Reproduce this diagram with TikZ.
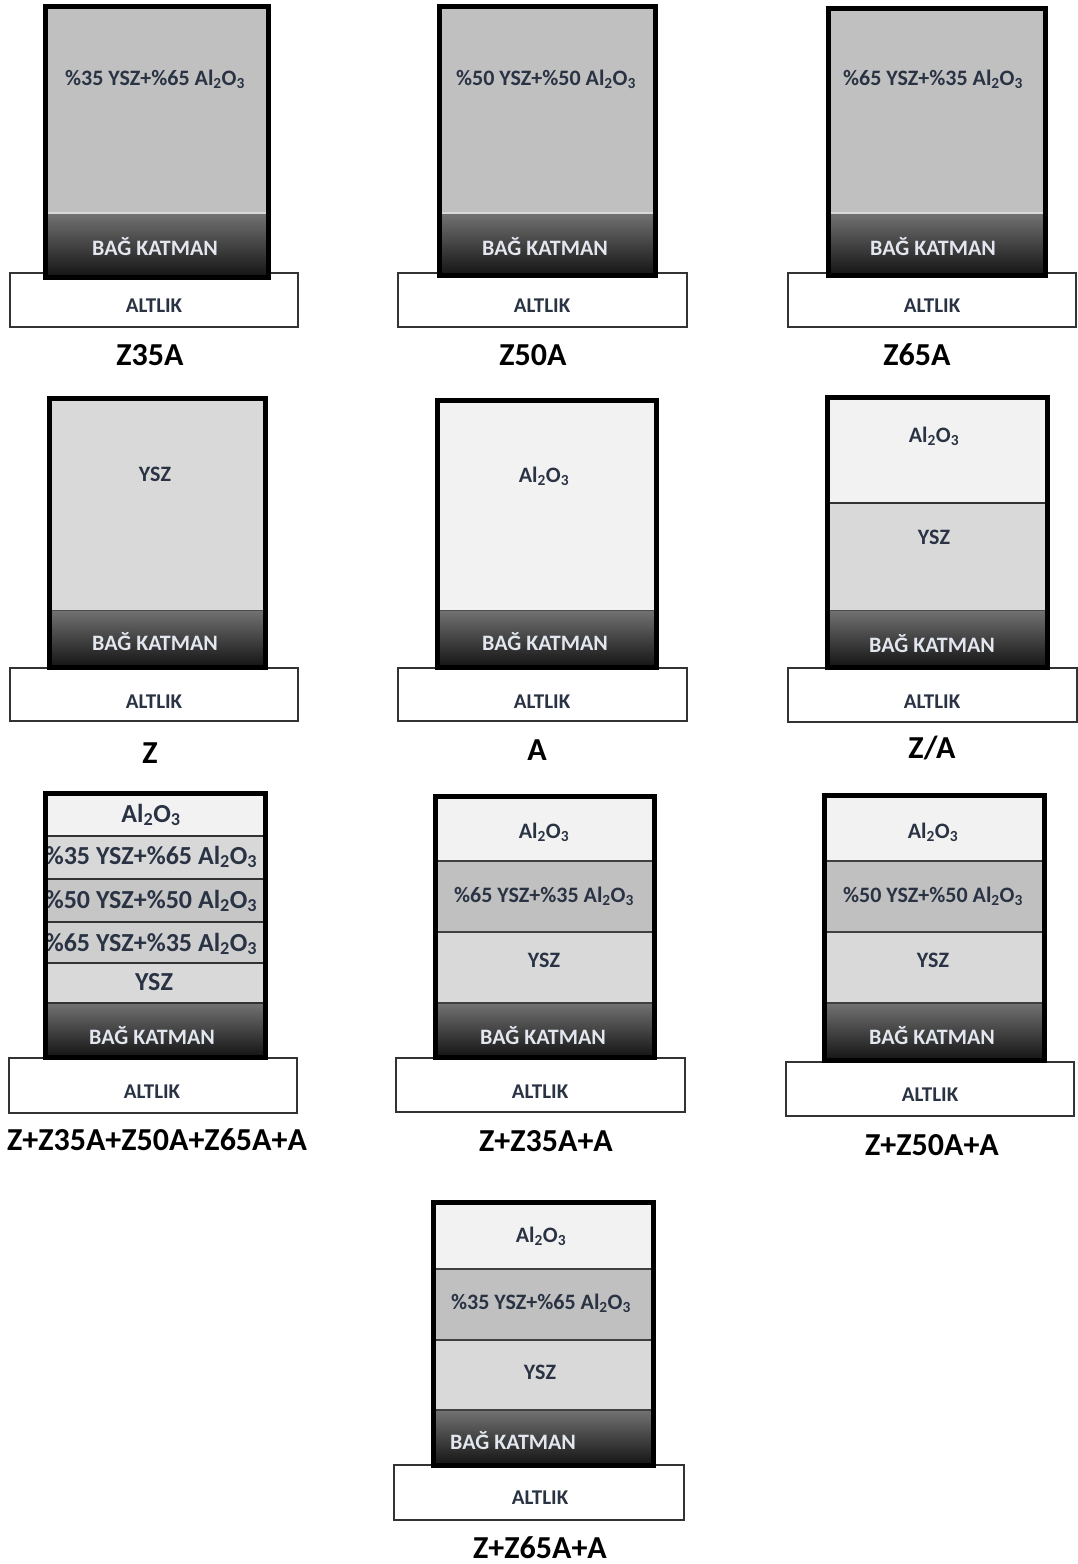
\documentclass[tikz,border=0pt]{standalone}
\usepackage{fontspec}
\setmainfont{Carlito}
\definecolor{mixc}{HTML}{C0C0C0}
\definecolor{yszc}{HTML}{D9D9D9}
\definecolor{aluc}{HTML}{F2F2F2}
\definecolor{m35}{HTML}{D8D8D8}
\definecolor{m50}{HTML}{C6C6C6}
\definecolor{m65}{HTML}{CECECE}
\definecolor{bagtop}{HTML}{727272}
\definecolor{bagbot}{HTML}{141414}
\definecolor{txtc}{HTML}{2A3344}
\definecolor{bagtxt}{HTML}{E2E6EE}
\tikzset{
  lbl/.style={inner sep=0pt, text=txtc, font=\bfseries\fontsize{22}{22}\selectfont},
  biglbl/.style={inner sep=0pt, text=txtc, font=\bfseries\fontsize{26}{26}\selectfont},
  baglbl/.style={inner sep=0pt, text=bagtxt, font=\bfseries\fontsize{22}{22}\selectfont},
  altlbl/.style={inner sep=0pt, text=txtc, font=\bfseries\fontsize{21}{21}\selectfont},
  caption/.style={inner sep=0pt, text=black, font=\bfseries\fontsize{32}{32}\selectfont},
  altbox/.style={draw=black!80, line width=1.5pt, fill=white},
  outerbox/.style={draw=black, line width=5pt},
  sepline/.style={draw=black!80, line width=2pt},
  bagshade/.style={top color=bagtop, bottom color=bagbot}
}
\newcommand\mixtxt[2]{\%#1 YSZ+\%#2 Al\textsubscript{2}O\textsubscript{3}}
\newcommand\alu{Al\textsubscript{2}O\textsubscript{3}}
\begin{document}
\begin{tikzpicture}[x=1pt,y=-1pt]
\useasboundingbox (0,0) rectangle (1078,1564);
\fill[white] (0,0) rectangle (1078,1564);

% ================= Row 1 =================
% Z35A
\draw[altbox] (10,273) rectangle (298,327);
\fill[mixc] (45,6) rectangle (268,213);
\shade[bagshade] (45,213) rectangle (268,277);
\draw[white!85!black, line width=1.5pt] (45,213) -- (268,213);
\draw[outerbox] (45,6) rectangle (268,277);
\node[lbl] (t1a) at (155,79) {\mixtxt{35}{65}};
\node[baglbl] (t1b) at (155,247) {BAĞ KATMAN};
\node[altlbl] (t1c) at (154,306) {ALTLIK};
\node[caption] (c1) at (150,355) {Z35A};

% Z50A
\draw[altbox] (398,273) rectangle (687,327);
\fill[mixc] (439,6) rectangle (655,213);
\shade[bagshade] (439,213) rectangle (655,275);
\draw[white!85!black, line width=1.5pt] (439,213) -- (655,213);
\draw[outerbox] (439,6) rectangle (655,275);
\node[lbl] (t2a) at (546,79) {\mixtxt{50}{50}};
\node[baglbl] (t2b) at (545,247) {BAĞ KATMAN};
\node[altlbl] (t2c) at (542,306) {ALTLIK};
\node[caption] (c2) at (533,355) {Z50A};

% Z65A
\draw[altbox] (788,273) rectangle (1076,327);
\fill[mixc] (828,8) rectangle (1045,213);
\shade[bagshade] (828,213) rectangle (1045,275);
\draw[white!85!black, line width=1.5pt] (828,213) -- (1045,213);
\draw[outerbox] (828,8) rectangle (1045,275);
\node[lbl] (t3a) at (933,79) {\mixtxt{65}{35}};
\node[baglbl] (t3b) at (933,247) {BAĞ KATMAN};
\node[altlbl] (t3c) at (932,306) {ALTLIK};
\node[caption] (c3) at (917,355) {Z65A};

% ================= Row 2 =================
% Z
\draw[altbox] (10,668) rectangle (298,721);
\fill[yszc] (49,398) rectangle (265,610);
\shade[bagshade] (49,610) rectangle (265,667);
\draw[black!70, line width=1pt] (49,610) -- (265,610);
\draw[outerbox] (49,398) rectangle (265,667);
\node[lbl] (t4a) at (155,474) {YSZ};
\node[baglbl] (t4b) at (155,642) {BAĞ KATMAN};
\node[altlbl] (t4c) at (154,702) {ALTLIK};
\node[caption] (c4) at (150,753) {Z};

% A
\draw[altbox] (398,668) rectangle (687,721);
\fill[aluc] (437,400) rectangle (656,610);
\shade[bagshade] (437,610) rectangle (656,667);
\draw[black!70, line width=1pt] (437,610) -- (656,610);
\draw[outerbox] (437,400) rectangle (656,667);
\node[lbl] (t5a) at (544,476) {\alu};
\node[baglbl] (t5b) at (545,642) {BAĞ KATMAN};
\node[altlbl] (t5c) at (542,702) {ALTLIK};
\node[caption] (c5) at (537,750) {A};

% Z/A
\draw[altbox] (788,668) rectangle (1077,722);
\fill[aluc] (827,397) rectangle (1047,503);
\fill[yszc] (827,503) rectangle (1047,610);
\shade[bagshade] (827,610) rectangle (1047,667);
\draw[sepline] (827,503) -- (1047,503);
\draw[black!70, line width=1pt] (827,610) -- (1047,610);
\draw[outerbox] (827,397) rectangle (1047,667);
\node[lbl] (t6a) at (934,436) {\alu};
\node[lbl] (t6b) at (934,537) {YSZ};
\node[baglbl] (t6c) at (932,644) {BAĞ KATMAN};
\node[altlbl] (t6d) at (932,702) {ALTLIK};
\node[caption] (c6) at (932,748) {Z/A};

% ================= Row 3 =================
% Z+Z35A+Z50A+Z65A+A
\draw[altbox] (9,1058) rectangle (297,1113);
\fill[aluc] (45,793) rectangle (265,836);
\fill[m35] (45,836) rectangle (265,879);
\fill[m50] (45,879) rectangle (265,922);
\fill[m65] (45,922) rectangle (265,963);
\fill[yszc] (45,963) rectangle (265,1003);
\shade[bagshade] (45,1003) rectangle (265,1057);
\draw[sepline] (45,836) -- (265,836);
\draw[sepline] (45,879) -- (265,879);
\draw[sepline] (45,922) -- (265,922);
\draw[sepline] (45,963) -- (265,963);
\draw[sepline] (45,1003) -- (265,1003);
\node[biglbl] (t7a) at (151,815) {\alu};
\node[biglbl] (t7b) at (151,857) {\mixtxt{35}{65}};
\node[biglbl] (t7c) at (151,901) {\mixtxt{50}{50}};
\node[biglbl] (t7d) at (151,944) {\mixtxt{65}{35}};
\node[biglbl] (t7e) at (154,982) {YSZ};
\draw[outerbox] (45,793) rectangle (265,1057);
\node[baglbl] (t7f) at (152,1036) {BAĞ KATMAN};
\node[altlbl] (t7g) at (152,1092) {ALTLIK};
\node[caption] (c7) at (157,1140) {Z+Z35A+Z50A+Z65A+A};

% Z+Z35A+A
\draw[altbox] (396,1058) rectangle (685,1112);
\fill[aluc] (435,796) rectangle (654,861);
\fill[mixc] (435,861) rectangle (654,932);
\fill[yszc] (435,932) rectangle (654,1003);
\shade[bagshade] (435,1003) rectangle (654,1057);
\draw[black!75, line width=1.5pt] (435,861) -- (654,861);
\draw[black!75, line width=1.5pt] (435,932) -- (654,932);
\draw[black!75, line width=1.5pt] (435,1003) -- (654,1003);
\draw[outerbox] (435,796) rectangle (654,1057);
\node[lbl] (t8a) at (544,832) {\alu};
\node[lbl] (t8b) at (544,896) {\mixtxt{65}{35}};
\node[lbl] (t8c) at (544,960) {YSZ};
\node[baglbl] (t8d) at (543,1036) {BAĞ KATMAN};
\node[altlbl] (t8e) at (540,1092) {ALTLIK};
\node[caption] (c8) at (546,1141) {Z+Z35A+A};

% Z+Z50A+A
\draw[altbox] (786,1062) rectangle (1074,1116);
\fill[aluc] (824,795) rectangle (1044,861);
\fill[mixc] (824,861) rectangle (1044,932);
\fill[yszc] (824,932) rectangle (1044,1003);
\shade[bagshade] (824,1003) rectangle (1044,1060);
\draw[black!75, line width=1.5pt] (824,861) -- (1044,861);
\draw[black!75, line width=1.5pt] (824,932) -- (1044,932);
\draw[black!75, line width=1.5pt] (824,1003) -- (1044,1003);
\draw[outerbox] (824,795) rectangle (1044,1060);
\node[lbl] (t9a) at (933,832) {\alu};
\node[lbl] (t9b) at (933,896) {\mixtxt{50}{50}};
\node[lbl] (t9c) at (933,960) {YSZ};
\node[baglbl] (t9d) at (932,1036) {BAĞ KATMAN};
\node[altlbl] (t9e) at (930,1095) {ALTLIK};
\node[caption] (c9) at (932,1145) {Z+Z50A+A};

% ================= Row 4 =================
% Z+Z65A+A
\draw[altbox] (394,1465) rectangle (684,1520);
\fill[aluc] (433,1202) rectangle (653,1269);
\fill[mixc] (433,1269) rectangle (653,1340);
\fill[yszc] (433,1340) rectangle (653,1410);
\shade[bagshade] (433,1410) rectangle (653,1465);
\draw[black!75, line width=1.5pt] (433,1269) -- (653,1269);
\draw[black!75, line width=1.5pt] (433,1340) -- (653,1340);
\draw[black!75, line width=1.5pt] (433,1410) -- (653,1410);
\draw[outerbox] (433,1202) rectangle (653,1465);
\node[lbl] (t10a) at (541,1236) {\alu};
\node[lbl] (t10b) at (541,1303) {\mixtxt{35}{65}};
\node[lbl] (t10c) at (540,1372) {YSZ};
\node[baglbl, anchor=west] (t10d) at (450,1441) {BAĞ KATMAN};
\node[altlbl] (t10e) at (540,1498) {ALTLIK};
\node[caption] (c10) at (540,1548) {Z+Z65A+A};
\end{tikzpicture}
\end{document}
